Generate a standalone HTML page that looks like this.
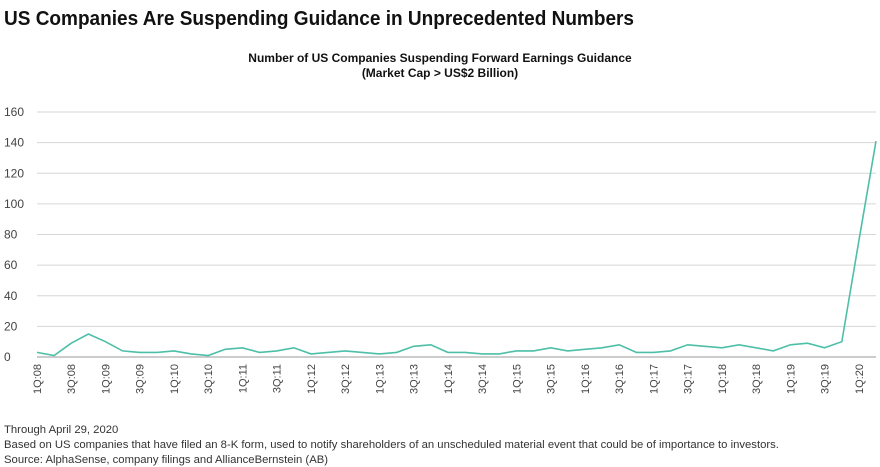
<!DOCTYPE html>
<html><head><meta charset="utf-8"><style>
body{margin:0;width:880px;height:467px;background:#fff;font-family:"Liberation Sans",sans-serif;overflow:hidden}
svg{position:absolute;left:0;top:0}
</style></head><body>
<svg width="880" height="467">
<text x="4" y="25" font-size="20" font-weight="bold" fill="#111" textLength="630" lengthAdjust="spacingAndGlyphs">US Companies Are Suspending Guidance in Unprecedented Numbers</text>
<text x="440" y="62" font-size="12" font-weight="bold" fill="#111" text-anchor="middle">Number of US Companies Suspending Forward Earnings Guidance</text>
<text x="440" y="77" font-size="12" font-weight="bold" fill="#111" text-anchor="middle">(Market Cap &gt; US$2 Billion)</text>
<g id="grid"></g><g id="xl"></g>
<path id="line" fill="none" stroke="#4dbfa8" stroke-width="1.6"/>
<text x="4" y="433" font-size="11.3" fill="#333">Through April 29, 2020</text>
<text x="4" y="448" font-size="11.3" fill="#333">Based on US companies that have filed an 8-K form, used to notify shareholders of an unscheduled material event that could be of importance to investors.</text>
<text x="4" y="463" font-size="11.3" fill="#333">Source: AlphaSense, company filings and AllianceBernstein (AB)</text>
</svg>
<script>
const yTicks=[0,20,40,60,80,100,120,140,160];
const values=[3,1,9,15,10,4,3,3,4,2,1,5,6,3,4,6,2,3,4,3,2,3,7,8,3,3,2,2,4,4,6,4,5,6,8,3,3,4,8,7,6,8,6,4,8,9,6,10,76,141];
const quarters=[];
for(let y=8;y<=20;y++)for(let q=1;q<=4;q++){if(quarters.length<values.length)quarters.push(q+'Q:'+String(y).padStart(2,'0'));}
const NS='http://www.w3.org/2000/svg';
const x0=37,x1=876,yb=357,yt=112;
const X=i=>x0+i*(x1-x0)/(values.length-1);
const Y=v=>yb-v*(yb-yt)/160;
const g=document.getElementById('grid');
yTicks.forEach(t=>{
 const l=document.createElementNS(NS,'line');
 l.setAttribute('x1',37);l.setAttribute('x2',876);l.setAttribute('y1',Y(t));l.setAttribute('y2',Y(t));
 l.setAttribute('stroke',t===0?'#999':'#d6d6d6');l.setAttribute('stroke-width','1');
 
 
 g.appendChild(l);
 const tx=document.createElementNS(NS,'text');
 tx.setAttribute('x',4);tx.setAttribute('y',Y(t)+4);tx.setAttribute('font-size','12');tx.setAttribute('fill','#444');
 tx.textContent=t;
 
 
 g.appendChild(tx);
});
const xl=document.getElementById('xl');
quarters.forEach((q,i)=>{
 if(i%2)return;
 const tx=document.createElementNS(NS,'text');
 const x=X(i)+4;
 tx.setAttribute('transform','translate('+x+',364) rotate(-90)');
 tx.setAttribute('text-anchor','end');tx.setAttribute('font-size','11');tx.setAttribute('fill','#444');
 tx.textContent=q;
 
 
 xl.appendChild(tx);
});
document.getElementById('line').setAttribute('d',values.map((v,i)=>(i?'L':'M')+X(i).toFixed(1)+' '+Y(v).toFixed(1)).join(' '));
</script>
</body></html>
